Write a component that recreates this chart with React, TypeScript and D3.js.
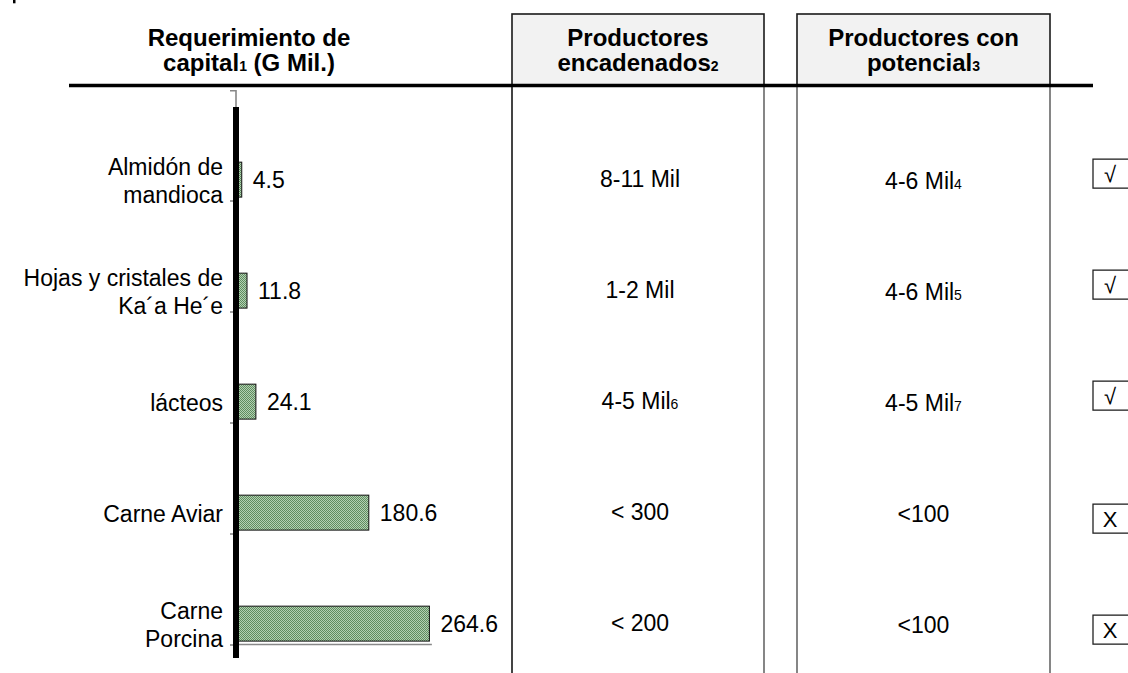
import React from "react";
import * as d3 from "d3";

const categories = ["Almidón de mandioca", "Hojas y cristales de Ka´a He´e", "lácteos", "Carne Aviar", "Carne Porcina"];
const categoryLines = [["Almidón de", "mandioca"], ["Hojas y cristales de", "Ka´a He´e"], ["lácteos"], ["Carne Aviar"], ["Carne", "Porcina"]];
const capitalValues = [4.5, 11.8, 24.1, 180.6, 264.6];
const encadenados = [["8-11 Mil", ""], ["1-2 Mil", ""], ["4-5 Mil", "6"], ["< 300", ""], ["< 200", ""]];
const potencial = [["4-6 Mil", "4"], ["4-6 Mil", "5"], ["4-5 Mil", "7"], ["<100", ""], ["<100", ""]];
const marks = ["√", "√", "√", "X", "X"];

const FONT = "'Liberation Sans', Arial, sans-serif";
// vertical offsets of the check boxes relative to each row centre (layout only)
const markOffsets = [-6, -6, -6, 6, 6];

export default function App() {
  const W = 1128, H = 673;
  const axisX = 236;
  const x = d3.scaleLinear().domain([0, 300]).range([axisX + 2.5, axisX + 2.5 + 300 * 0.7215]);
  const y = d3.scaleBand<string>().domain(categories).range([90, 645]);
  const bw = y.bandwidth();
  const barY = (c: string) => (y(c) as number) + bw * 0.65;
  const barH = bw * 0.315;
  const rowC = (c: string) => barY(c) + barH / 2;
  const col1 = [512, 764];
  const col2 = [797, 1050];
  const c1 = (col1[0] + col1[1]) / 2 + 2;
  const c2 = (col2[0] + col2[1]) / 2;
  const boundaries = categories.map((c) => (y(c) as number) + bw);

  return (
    <svg width={W} height={H} style={{ position: "absolute", left: 0, top: 0, background: "#fff" }} fontFamily={FONT}>
      <defs>
        <pattern id="dots" width={2} height={2} patternUnits="userSpaceOnUse">
          <rect width={2} height={2} fill="#b3d1b3" />
          <rect width={1} height={1} fill="#5f8c5f" />
          <rect x={1} y={1} width={1} height={1} fill="#5f8c5f" />
        </pattern>
      </defs>
      <rect width={W} height={H} fill="#fff" />
      <rect x={13} y={0} width={2.5} height={3.3} fill="#000" />

      {/* header boxes and column lines */}
      {[col1, col2].map((c, i) => (
        <g key={i}>
          <rect x={c[0]} y={14} width={c[1] - c[0]} height={72} fill="#f2f2f2" stroke="#1a1a1a" strokeWidth={1.6} />
          <line x1={c[0]} x2={c[0]} y1={86} y2={H} stroke="#444" strokeWidth={i === 0 ? 2 : 1.3} />
          <line x1={c[1]} x2={c[1]} y1={86} y2={H} stroke="#444" strokeWidth={1.3} />
        </g>
      ))}
      <text x={249} y={46} textAnchor="middle" fontSize={24} fontWeight="bold">Requerimiento de</text>
      <text x={249} y={71} textAnchor="middle" fontSize={24} fontWeight="bold">
        capital<tspan fontSize={14}>1</tspan> (G Mil.)
      </text>
      <text x={c1 - 2} y={46} textAnchor="middle" fontSize={24} fontWeight="bold">Productores</text>
      <text x={c1 - 2} y={71} textAnchor="middle" fontSize={24} fontWeight="bold">
        encadenados<tspan fontSize={14}>2</tspan>
      </text>
      <text x={c2} y={46} textAnchor="middle" fontSize={24} fontWeight="bold">Productores con</text>
      <text x={c2} y={71} textAnchor="middle" fontSize={24} fontWeight="bold">
        potencial<tspan fontSize={14}>3</tspan>
      </text>
      <line x1={69} x2={1093} y1={85.5} y2={85.5} stroke="#000" strokeWidth={3.5} />

      {/* category axis */}
      <path d={`M230,90.8 H${axisX} V107`} fill="none" stroke="#888" strokeWidth={1.6} />
      {boundaries.map((b, i) => (
        <line key={i} x1={230} x2={axisX} y1={b} y2={b} stroke="#888" strokeWidth={1.6} />
      ))}
      <line x1={axisX - 3} x2={x(268)} y1={644.5} y2={644.5} stroke="#888" strokeWidth={1.6} />

      {/* bars, labels, columns */}
      {categories.map((c, i) => (
        <g key={c}>
          <rect x={x(0)} y={barY(c)} width={x(capitalValues[i]) - x(0)} height={barH} fill="url(#dots)" stroke="#111" strokeWidth={1} />
          <text x={x(capitalValues[i]) + 11} y={rowC(c)} dy="0.35em" fontSize={23}>{capitalValues[i].toFixed(1)}</text>
          {categoryLines[i].map((ln, j) => {
            const n = categoryLines[i].length;
            return (
              <text key={j} x={223} y={rowC(c) + 1 + (j - (n - 1) / 2) * 28} dy="0.35em" fontSize={23} textAnchor="end">{ln}</text>
            );
          })}
          <text x={c1} y={rowC(c) - 1} dy="0.35em" fontSize={23} textAnchor="middle">
            {encadenados[i][0]}<tspan fontSize={14}>{encadenados[i][1]}</tspan>
          </text>
          <text x={c2} y={rowC(c) + 1} dy="0.35em" fontSize={23} textAnchor="middle">
            {potencial[i][0]}<tspan fontSize={14}>{potencial[i][1]}</tspan>
          </text>
          <rect x={1093} y={rowC(c) + markOffsets[i] - 14.5} width={60} height={29} fill="#fff" stroke="#222" strokeWidth={1.3} />
          <text x={1110} y={rowC(c) + markOffsets[i]} dy="0.36em" fontSize={22} textAnchor="middle">{marks[i]}</text>
        </g>
      ))}
      <line x1={axisX} x2={axisX} y1={107} y2={658} stroke="#000" strokeWidth={6} />
    </svg>
  );
}
